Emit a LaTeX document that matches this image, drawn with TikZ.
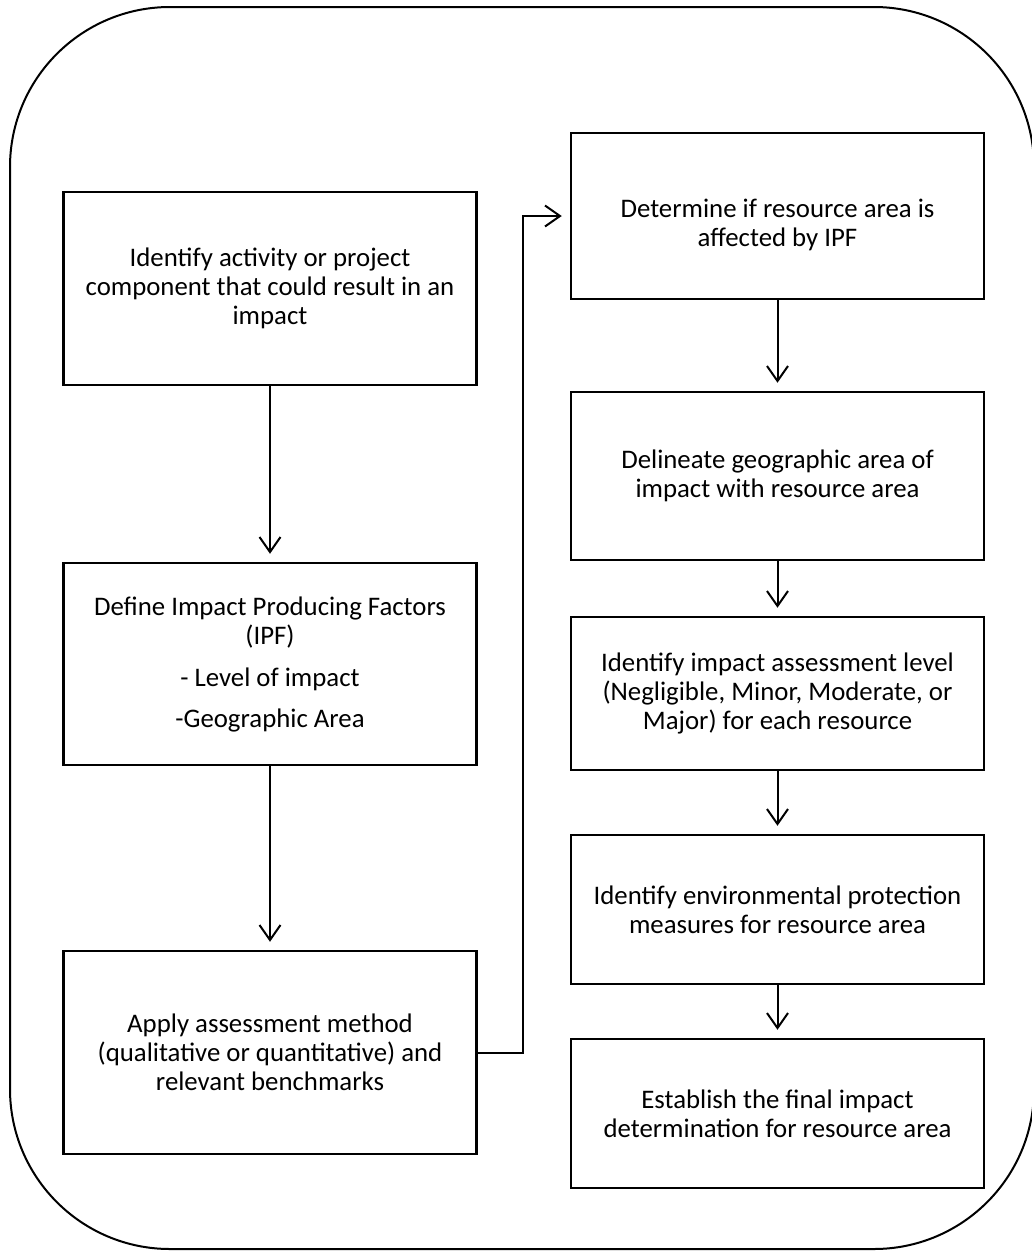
\documentclass[tikz,border=0pt]{standalone}
\usepackage{fontspec}
\setmainfont{Carlito}
\usetikzlibrary{arrows.meta}
\begin{document}
\begin{tikzpicture}[x=1pt,y=-1pt,
  box/.style={draw, line width=2.5pt, rectangle, minimum width=413pt, inner sep=0pt, align=center, font=\fontsize{26.8}{29}\selectfont},
  txt/.style={inner sep=0pt, align=center, font=\fontsize{26.8}{29}\selectfont},
  flow/.style={line width=2pt, -{Straight Barb[length=15pt,width=21pt]}, shorten >=8pt}
]
\useasboundingbox (0,0) rectangle (1032,1251);
\draw[line width=2pt, rounded corners=160pt] (10,7) rectangle (1034,1249);

% left column
\node[box, minimum height=193pt] (b1) at (270,288.5) {Identify activity or project\\component that could result in an\\impact};
\node[box, minimum height=202pt] (b2) at (270,664) {Define Impact Producing Factors\\(IPF)\\[13pt]- Level of impact\\[12pt]-Geographic Area};
\node[box, minimum height=203pt] (b3) at (270,1052.5) {Apply assessment method\\(qualitative or quantitative) and\\relevant benchmarks};

% right column
\node[box, minimum height=166pt, label={[txt, yshift=-9pt]center:Determine if resource area is\\affected by IPF}] (rA) at (777.5,216) {};
\node[box, minimum height=168pt] (rB) at (777.5,476) {Delineate geographic area of\\impact with resource area};
\node[box, minimum height=153pt] (rC) at (777.5,693.5) {Identify impact assessment level\\(Negligible, Minor, Moderate, or\\Major) for each resource};
\node[box, minimum height=149pt] (rD) at (777.5,909.5) {Identify environmental protection\\measures for resource area};
\node[box, minimum height=149pt] (rE) at (777.5,1113.5) {Establish the final impact\\determination for resource area};

\coordinate (j) at (523,0);

\draw[flow] (b1) -- (b2);
\draw[flow] (b2) -- (b3);
\draw[flow] (b3.east) -- (j |- b3.east) -- (j |- rA.west) -- (rA.west);
\draw[flow] (rA) -- (rB);
\draw[flow] (rB) -- (rC);
\draw[flow] (rC) -- (rD);
\draw[flow] (rD) -- (rE);
\end{tikzpicture}
\end{document}
